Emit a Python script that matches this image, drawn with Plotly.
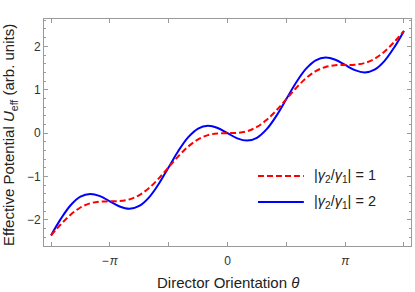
import plotly.graph_objects as go

# Director orientation theta (rad), read along the x axis
theta = [-4.712, -4.451, -4.189, -3.927, -3.665, -3.403, -3.142, -2.880, -2.618,
         -2.356, -2.094, -1.833, -1.571, -1.309, -1.047, -0.785, -0.524, -0.262,
         0.0, 0.262, 0.524, 0.785, 1.047, 1.309, 1.571, 1.833, 2.094, 2.356,
         2.618, 2.880, 3.142, 3.403, 3.665, 3.927, 4.189, 4.451, 4.712]

# |gamma2/gamma1| = 1  (red dashed)
u_ratio1 = [-2.356, -2.100, -1.878, -1.713, -1.616, -1.577, -1.571, -1.565, -1.526,
            -1.428, -1.264, -1.041, -0.785, -0.529, -0.307, -0.143, -0.045, -0.006,
            0.0, 0.006, 0.045, 0.143, 0.307, 0.529, 0.785, 1.041, 1.264, 1.428,
            1.526, 1.565, 1.571, 1.577, 1.616, 1.713, 1.878, 2.100, 2.356]

# |gamma2/gamma1| = 2  (blue solid)
u_ratio2 = [-2.356, -1.975, -1.661, -1.463, -1.400, -1.452, -1.571, -1.690, -1.742,
            -1.678, -1.480, -1.166, -0.785, -0.404, -0.091, 0.107, 0.171, 0.119,
            0.0, -0.119, -0.171, -0.107, 0.091, 0.404, 0.785, 1.166, 1.480, 1.678,
            1.742, 1.690, 1.571, 1.452, 1.400, 1.463, 1.661, 1.975, 2.356]

series_names = ["|<i>γ</i><sub>2</sub>/<i>γ</i><sub>1</sub>| = 1",
                "|<i>γ</i><sub>2</sub>/<i>γ</i><sub>1</sub>| = 2"]

x_tickvals = [-4.712, -3.142, -1.571, 0.0, 1.571, 3.142, 4.712]
x_ticktext = ["", "−\u200a<i>π</i>", "", "0", "", "<i>π</i>", ""]
y_tickvals = [-2, -1, 0, 1, 2]
y_ticktext = ["−2", "−1", "0", "1", "2"]

x_title = "Director Orientation <i>θ</i>"
y_title = "Effective Potential <i>U</i><sub>eff</sub> (arb. units)"

FONT = "Liberation Sans, Arial, sans-serif"
FRAME = "#9a9a9a"
TXT = "#333333"

fig = go.Figure()
fig.add_trace(go.Scatter(x=theta, y=u_ratio2, mode="lines", name=series_names[1],
                         line=dict(color="#0000ff", width=2, shape="spline", smoothing=1.0),
                         showlegend=False))
fig.add_trace(go.Scatter(x=theta, y=u_ratio1, mode="lines", name=series_names[0],
                         line=dict(color="#ff0000", width=2, dash="6px,3px",
                                   shape="spline", smoothing=1.0),
                         showlegend=False))

fig.update_layout(
    width=415, height=292,
    margin=dict(l=44, r=4, t=19, b=46, autoexpand=False),
    paper_bgcolor="white", plot_bgcolor="white",
    font=dict(family=FONT, color=TXT, size=12),
    xaxis=dict(range=[-4.90, 4.90], showgrid=False, zeroline=False, automargin=False,
               showline=True, linecolor=FRAME, linewidth=1, mirror="ticks",
               ticks="inside", ticklen=4, tickcolor=FRAME, tickwidth=1,
               tickvals=x_tickvals, ticktext=x_ticktext, ticklabelstandoff=4,
               tickfont=dict(size=12, color=TXT)),
    yaxis=dict(range=[-2.60, 2.63], showgrid=False, zeroline=False, automargin=False,
               showline=True, linecolor=FRAME, linewidth=1, mirror="ticks",
               ticks="inside", ticklen=4, tickcolor=FRAME, tickwidth=1,
               tickvals=y_tickvals, ticktext=y_ticktext,
               tickfont=dict(size=12, color=TXT),
               minor=dict(ticks="inside", ticklen=2, tickcolor=FRAME, dtick=0.2,
                          tick0=0, showgrid=False)),
)

# Axis titles
fig.add_annotation(xref="paper", yref="paper", x=0.50, y=-0.16, text=x_title,
                   showarrow=False, xanchor="center", yanchor="middle",
                   font=dict(size=15, color="#222222", family=FONT))
fig.add_annotation(xref="paper", yref="paper", x=-0.092, y=0.49, text=y_title,
                   showarrow=False, xanchor="center", yanchor="middle", textangle=-90,
                   font=dict(size=15, color="#222222", family=FONT))

# Legend drawn inside the frame, lower right
legend_rows = [(0.308, "#ff0000", "6px,3px", series_names[0]),
               (0.194, "#0000ff", "solid", series_names[1])]
for ypos, col, dash, label in legend_rows:
    fig.add_shape(type="line", xref="paper", yref="paper", x0=0.583, x1=0.708,
                  y0=ypos, y1=ypos, line=dict(color=col, width=2, dash=dash))
    fig.add_annotation(xref="paper", yref="paper", x=0.73, y=ypos, text=label,
                       showarrow=False, xanchor="left", yanchor="middle",
                       font=dict(size=14.5, color="#222222", family=FONT))

# remove the browser's default 8px body margin so the figure fills the window
fig.write_html("out.html", config={"displayModeBar": False},
               post_script="document.body.style.margin='0';")
